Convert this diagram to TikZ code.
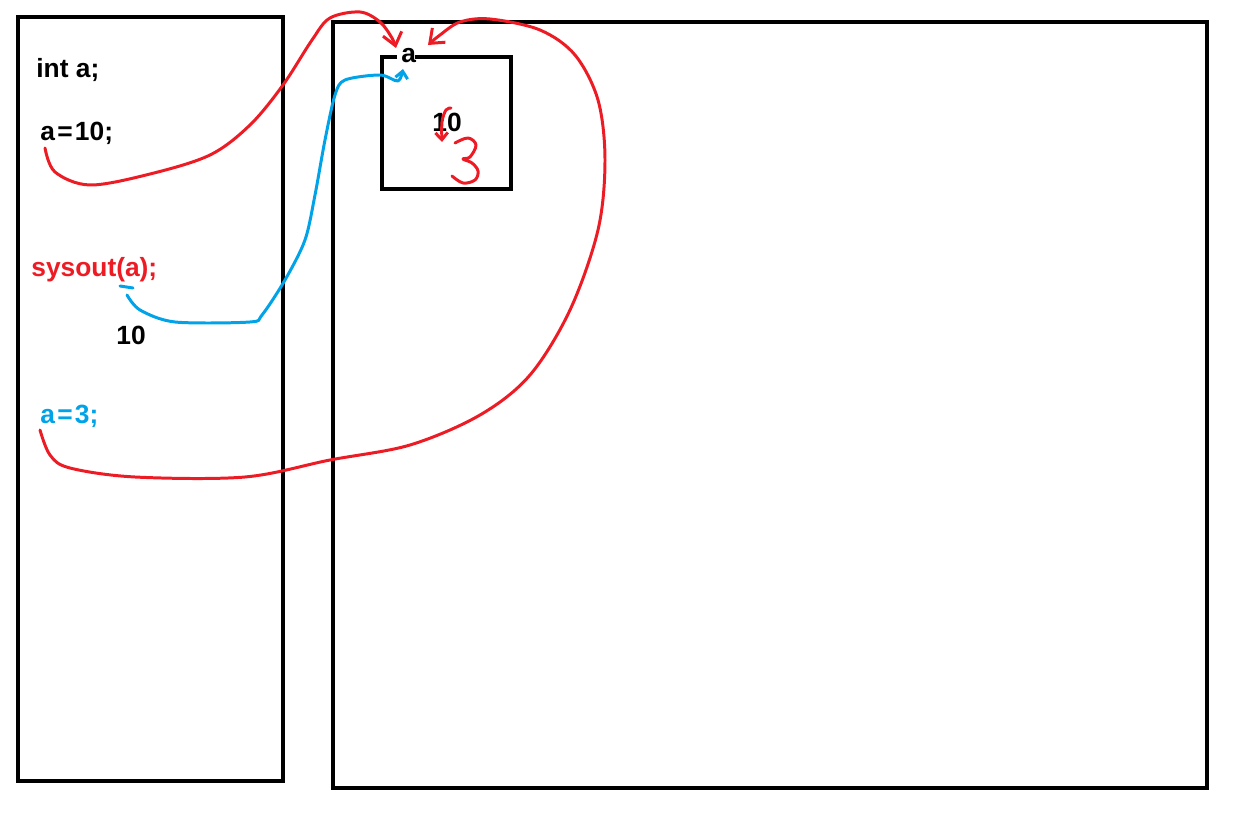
\documentclass[tikz,border=0pt]{standalone}
\usepackage{fontspec}
\setmainfont{Liberation Sans}
\usetikzlibrary{arrows.meta}
\definecolor{pred}{RGB}{237,28,36}
\definecolor{pblue}{RGB}{0,162,232}
\newcommand{\eqsp}{\kern1.3pt=\kern1.3pt}
\begin{document}
\begin{tikzpicture}[x=0.02cm,y=-0.02cm,
  box/.style={draw=black,line width=2.3pt},
  code/.style={anchor=base west,inner sep=0pt,font=\fontsize{15}{17}\selectfont\bfseries},
  pen/.style={line width=1.7pt,line cap=round,line join=round},
  tip/.style={-{Straight Barb[length=7pt,width=11pt]}},
  smalltip/.style={-{Straight Barb[length=4pt,width=7pt]}}]
\useasboundingbox (0,0) rectangle (1241,820);
% frames
\draw[box] (18,17) rectangle (283,781);
\draw[box] (333,22) rectangle (1207,788);
\draw[box] (397,57) -- (382,57) -- (382,189) -- (511,189) -- (511,57) -- (415,57);
% texts
\node[code] (inta) at (36,78) {int a;};
\node[code] (a10) at (40,141) {a\eqsp10;};
\node[code,text=pred] (sysout) at (31,277) {sysout(a);};
\node[code] (out10) at (116,345) {10};
\node[code,text=pblue] (a3) at (40,424) {a\eqsp3;};
\node[code] (vala) at (401,63) {a};
\node[code] (val10) at (432,132) {10};
% connectors
\coordinate (s1) at (45,148);
\coordinate (s2) at (40,430);
\coordinate (s3) at (127,295);
\draw[pen,pred,tip] plot[smooth,tension=0.55] coordinates {(s1) (55,172) (90,185) (150,174) (210,155) (250,125) (283,85) (312,40) (330,18) (360,12) (380,22) (392,38) (396,48)};
\draw[pen,pred,tip] plot[smooth,tension=0.55] coordinates {(s2) (50,455) (70,468) (135,477) (245,477) (330,460) (410,445) (480,415) (530,375) (570,310) (598,230) (605,160) (598,100) (575,55) (540,30) (490,19) (460,22) (440,35) (428,45)};
\draw[pen,pblue] (120,286) -- (133,288);
\draw[pen,pblue,smalltip] plot[smooth,tension=0.5] coordinates {(s3) (140,310) (175,322) (250,322) (262,315) (285,280) (305,240) (315,195) (325,140) (335,95) (345,80) (380,75) (398,81) (403,69)};
% strike arrow and 3
\draw[pen,pred,smalltip] plot[smooth,tension=0.6] coordinates {(451,108) (446,110) (442,122) (442,142)};
\draw[pen,pred] plot[smooth,tension=0.6] coordinates {(455,143) (468,138) (476,145) (470,157) (463,159) (472,163) (478,171) (475,180) (463,183) (452,176)};
\end{tikzpicture}
\end{document}
